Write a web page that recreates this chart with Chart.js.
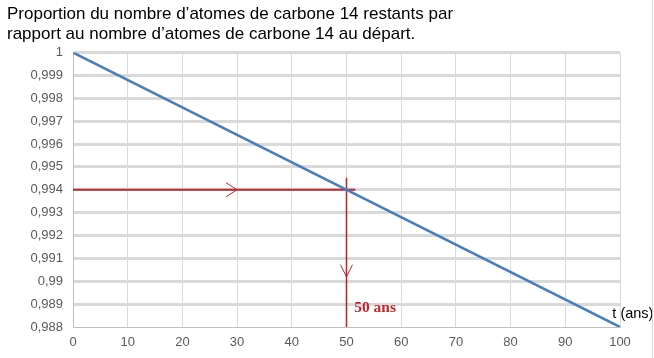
<!DOCTYPE html>
<html>
<head>
<meta charset="utf-8">
<script src="https://cdn.jsdelivr.net/npm/chart.js@4/dist/chart.umd.min.js"></script>
<style>
html,body{margin:0;padding:0;background:#fff;}
#wrap{position:relative;width:654px;height:358px;}
</style>
</head>
<body>
<div id="wrap"><canvas id="c" width="654" height="358"></canvas></div>
<script>
// ---- data ----
const titleLines = ["Proportion du nombre d\u2019atomes de carbone 14 restants par", "rapport au nombre d\u2019atomes de carbone 14 au d\u00e9part."];
const years = [0, 100];
const proportion = [1, 0.988];
const xTicks = [0, 10, 20, 30, 40, 50, 60, 70, 80, 90, 100];
const yMin = 0.988, yMax = 1, yStep = 0.001;
// red construction: reading t for proportion 0.994
const readX = [-0.2, 51.6];      // horizontal red line extent (years)
const readY = [0.994, 0.994];
const dropX = [50, 50];          // vertical red line
const dropY = [0.99452, 0.988];
const arrowH = {x: 30, y: 0.994};     // arrow on horizontal line
const arrowV = {x: 50, y: 0.9902};    // arrow on vertical line
const resultLabel = {text: "50 ans", x: 51.4, y: 0.98884};
const axisLabel = {text: "t (ans)", x: 98.6, y: 0.98858};

const RED = '#C0272D';
const BLUE = '#4A7EBB';

const annot = {
  id: 'annot',
  afterDatasetsDraw(chart) {
    const {ctx, scales: {x, y}} = chart;
    ctx.save();
    ctx.strokeStyle = RED;
    ctx.lineWidth = 1;
    // horizontal arrowhead (pointing right)
    let px = x.getPixelForValue(arrowH.x), py = y.getPixelForValue(arrowH.y);
    ctx.beginPath();
    ctx.moveTo(px - 11, py - 7); ctx.lineTo(px, py); ctx.lineTo(px - 11, py + 7);
    ctx.stroke();
    // vertical arrowhead (pointing down)
    px = x.getPixelForValue(arrowV.x); py = y.getPixelForValue(arrowV.y);
    ctx.beginPath();
    ctx.moveTo(px - 6, py - 12); ctx.lineTo(px, py); ctx.lineTo(px + 6, py - 12);
    ctx.stroke();
    // labels
    ctx.fillStyle = RED;
    ctx.font = 'bold 15.5px "Liberation Serif", "DejaVu Serif", serif';
    ctx.textBaseline = 'middle';
    ctx.textAlign = 'left';
    ctx.fillText(resultLabel.text, x.getPixelForValue(resultLabel.x), y.getPixelForValue(resultLabel.y));
    ctx.fillStyle = '#000';
    ctx.font = '14.5px "Liberation Sans", Arial, sans-serif';
    ctx.fillText(axisLabel.text, x.getPixelForValue(axisLabel.x), y.getPixelForValue(axisLabel.y));
    // outer chart border on the right
    ctx.strokeStyle = '#d9d9d9';
    ctx.lineWidth = 1;
    ctx.beginPath();
    ctx.moveTo(652.5, 0); ctx.lineTo(652.5, chart.height);
    ctx.stroke();
    ctx.restore();
  }
};

new Chart(document.getElementById('c'), {
  type: 'line',
  data: {
    datasets: [
      {
        data: years.map((t, i) => ({x: t, y: proportion[i]})),
        borderColor: BLUE, borderWidth: 2.5, pointRadius: 0, tension: 0
      },
      {
        data: readX.map((t, i) => ({x: t, y: readY[i]})),
        borderColor: RED, borderWidth: 1.8, pointRadius: 0
      },
      {
        data: dropX.map((t, i) => ({x: t, y: dropY[i]})),
        borderColor: RED, borderWidth: 1.6, pointRadius: 0
      }
    ]
  },
  options: {
    responsive: false,
    animation: false,
    devicePixelRatio: 1,
    layout: {padding: {left: 7, right: 34, top: 0, bottom: 0}},
    plugins: {
      legend: {display: false},
      tooltip: {enabled: false},
      title: {
        display: true,
        text: titleLines,
        align: 'start',
        color: '#000',
        font: {family: '"Liberation Sans", Arial, sans-serif', size: 17, weight: 'normal', lineHeight: 1.18},
        padding: {top: 4, bottom: 8.4}
      }
    },
    scales: {
      x: {
        type: 'linear', min: 0, max: 100,
        afterBuildTicks: (s) => { s.ticks = xTicks.map(v => ({value: v})); },
        afterFit: (s) => { s.height = 31; },
        grid: {color: '#d9d9d9', lineWidth: 1, drawTicks: false},
        border: {color: '#bfbfbf', width: 1},
        ticks: {color: '#595959', padding: 8, font: {family: '"Liberation Sans", Arial, sans-serif', size: 13}}
      },
      y: {
        type: 'linear', min: yMin, max: yMax,
        ticks: {
          stepSize: yStep, color: '#595959', padding: 10,
          font: {family: '"Liberation Sans", Arial, sans-serif', size: 13},
          callback: (v) => String(Number(v.toFixed(3))).replace('.', ',')
        },
        afterFit: (s) => { s.width = 66; },
        grid: {color: '#d9d9d9', lineWidth: (c) => c.index === 0 ? 0 : 3, drawTicks: false},
        border: {color: '#bfbfbf', width: 1}
      }
    }
  },
  plugins: [annot]
});
</script>
</body>
</html>
